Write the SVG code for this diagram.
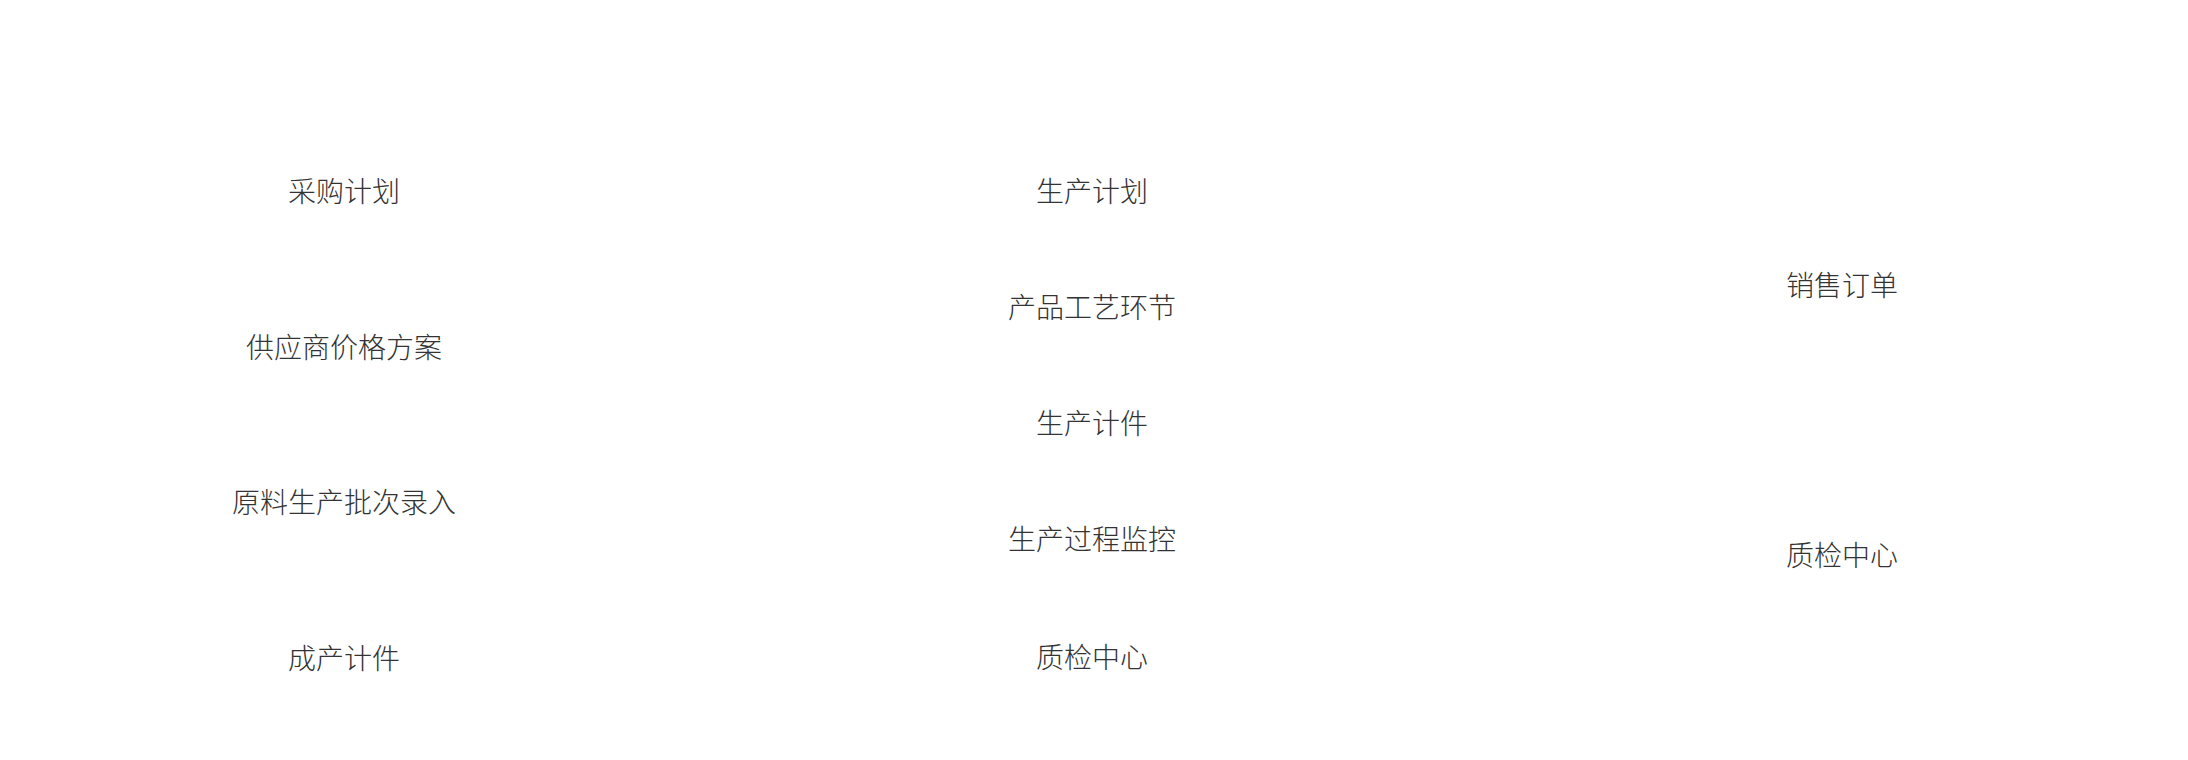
<svg xmlns="http://www.w3.org/2000/svg" width="2188" height="760" viewBox="0 0 2188 760">
<style>
.bg{fill:#ffffff}
.lbl{font-family:"Noto Sans CJK SC","Noto Sans",sans-serif;font-size:28px;font-weight:300;fill:#333333;text-anchor:middle}
</style>
<rect class="bg" x="0" y="0" width="2188" height="760"/>
<g id="connectors"></g>
<g id="n-caigou"><text class="lbl" x="344" y="202">采购计划</text></g>
<g id="n-gongying"><text class="lbl" x="344" y="358">供应商价格方案</text></g>
<g id="n-yuanliao"><text class="lbl" x="344" y="513">原料生产批次录入</text></g>
<g id="n-chengchan"><text class="lbl" x="344" y="669">成产计件</text></g>
<g id="n-shengchanjihua"><text class="lbl" x="1092" y="202">生产计划</text></g>
<g id="n-gongyi"><text class="lbl" x="1092" y="318">产品工艺环节</text></g>
<g id="n-jijian"><text class="lbl" x="1092" y="434">生产计件</text></g>
<g id="n-jiankong"><text class="lbl" x="1092" y="550">生产过程监控</text></g>
<g id="n-zhijian1"><text class="lbl" x="1092" y="668">质检中心</text></g>
<g id="n-xiaoshou"><text class="lbl" x="1842" y="296">销售订单</text></g>
<g id="n-zhijian2"><text class="lbl" x="1842" y="566">质检中心</text></g>
</svg>
